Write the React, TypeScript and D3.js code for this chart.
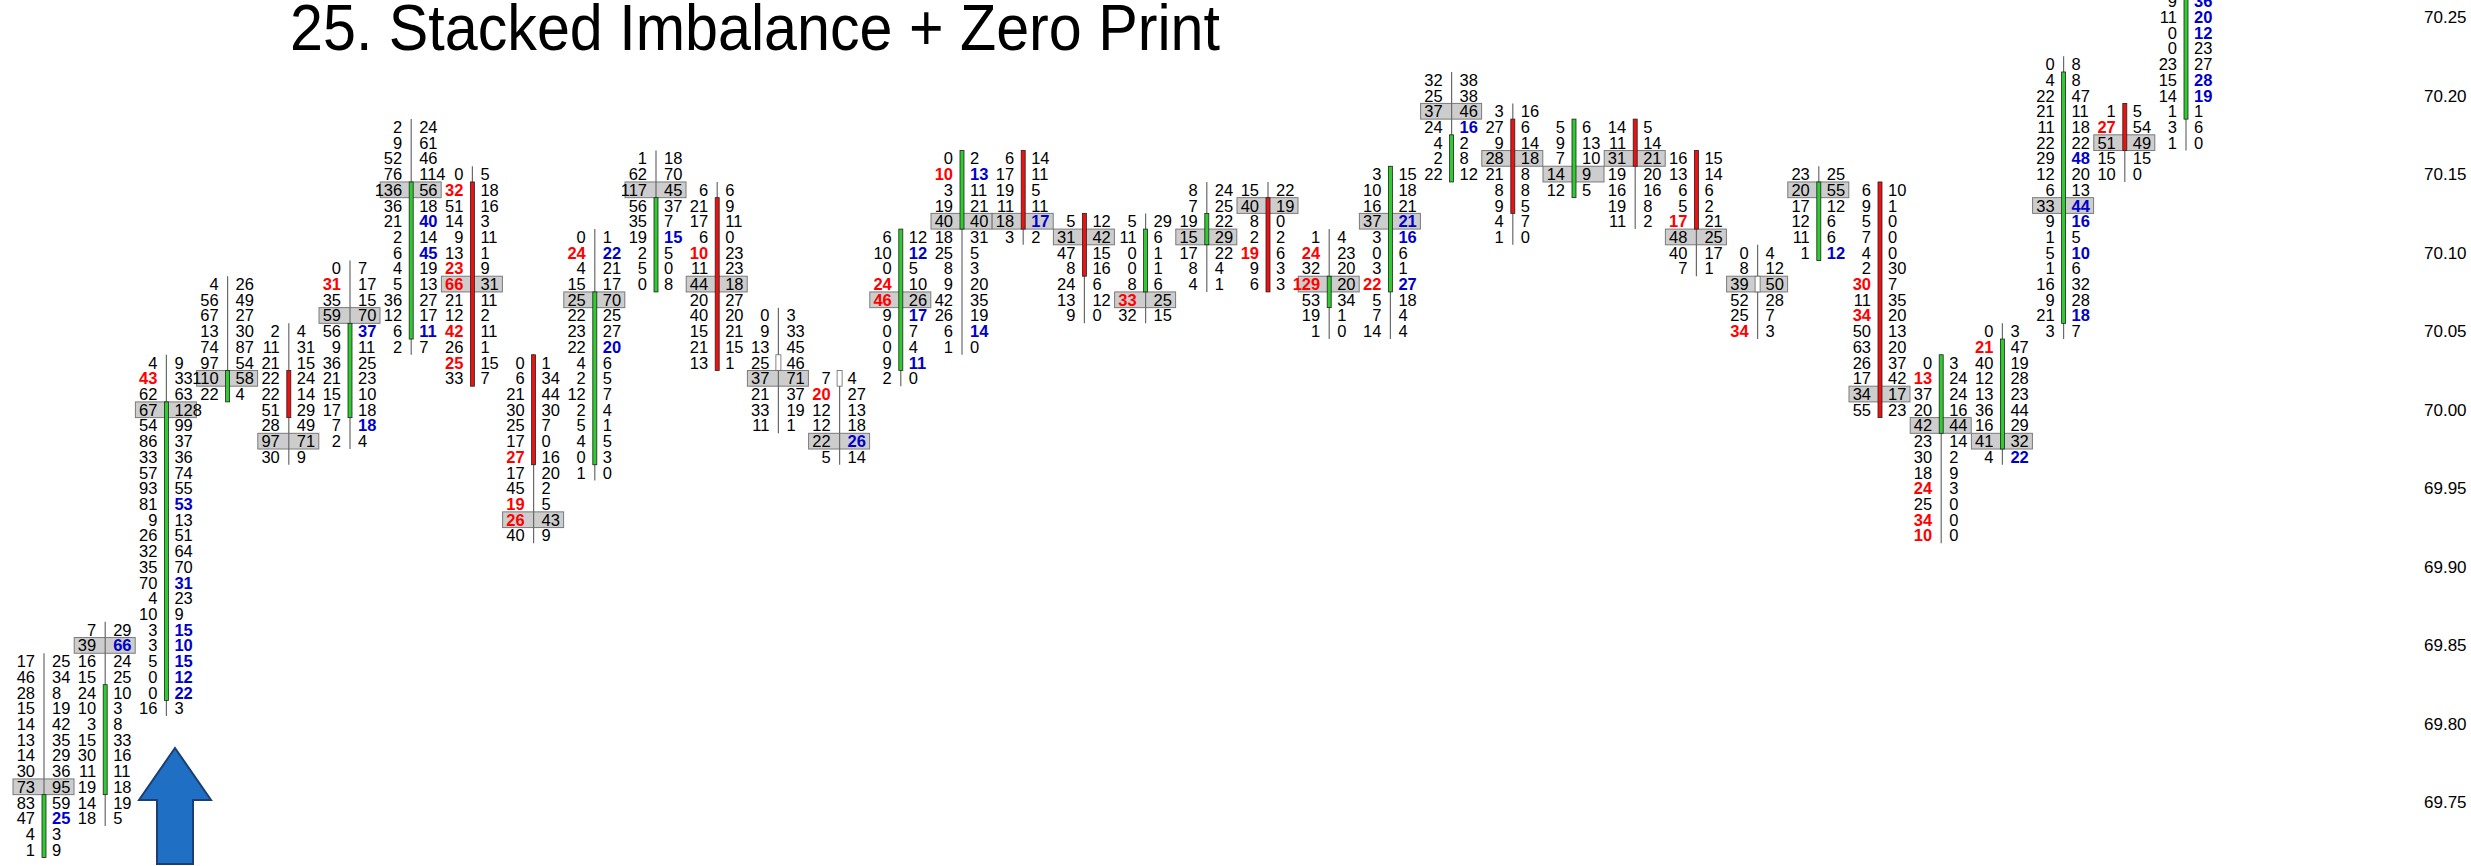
import React, { useEffect, useRef } from 'react'
import * as d3 from 'd3'

// footprint: one column per bar, rows are 0.01 price steps
const priceTicks = [70.25, 70.2, 70.15, 70.1, 70.05, 70.0, 69.95, 69.9, 69.85, 69.8, 69.75]

const colTops = [
  69.84, 69.86, 70.03, 70.08, 70.05, 70.09, 70.18, 70.15, 70.03, 70.11,
  70.16, 70.14, 70.06, 70.02, 70.11, 70.16, 70.16, 70.12, 70.12, 70.14,
  70.14, 70.11, 70.15, 70.21, 70.19, 70.18, 70.18, 70.16, 70.10, 70.15,
  70.14, 70.03, 70.05, 70.22, 70.19, 70.26,
]

const bidVols: number[][] = [
  [17, 46, 28, 15, 14, 13, 14, 30, 73, 83, 47, 4, 1],
  [7, 39, 16, 15, 24, 10, 3, 15, 30, 11, 19, 14, 18],
  [4, 43, 62, 67, 54, 86, 33, 57, 93, 81, 9, 26, 32, 35, 70, 4, 10, 3, 3, 5, 0, 0, 16],
  [4, 56, 67, 13, 74, 97, 110, 22],
  [2, 11, 21, 22, 22, 51, 28, 97, 30],
  [0, 31, 35, 59, 56, 9, 36, 21, 15, 17, 7, 2],
  [2, 9, 52, 76, 136, 36, 21, 2, 6, 4, 5, 36, 12, 6, 2],
  [0, 32, 51, 14, 9, 13, 23, 66, 21, 12, 42, 26, 25, 33],
  [0, 6, 21, 30, 25, 17, 27, 17, 45, 19, 26, 40],
  [0, 24, 4, 15, 25, 22, 23, 22, 4, 2, 12, 2, 5, 4, 0, 1],
  [1, 62, 117, 56, 35, 19, 2, 5, 0],
  [6, 21, 17, 6, 10, 11, 44, 20, 40, 15, 21, 13],
  [0, 9, 13, 25, 37, 21, 33, 11],
  [7, 20, 12, 12, 22, 5],
  [6, 10, 0, 24, 46, 9, 0, 0, 9, 2],
  [0, 10, 3, 19, 40, 18, 25, 8, 9, 42, 26, 6, 1],
  [6, 17, 19, 11, 18, 3],
  [5, 31, 47, 8, 24, 13, 9],
  [5, 11, 0, 0, 8, 33, 32],
  [8, 7, 19, 15, 17, 8, 4],
  [15, 40, 8, 2, 19, 9, 6],
  [1, 24, 32, 129, 53, 19, 1],
  [3, 10, 16, 37, 3, 0, 3, 22, 5, 7, 14],
  [32, 25, 37, 24, 4, 2, 22],
  [3, 27, 9, 28, 21, 8, 9, 4, 1],
  [5, 9, 7, 14, 12],
  [14, 11, 31, 19, 16, 19, 11],
  [16, 13, 6, 5, 17, 48, 40, 7],
  [0, 8, 39, 52, 25, 34],
  [23, 20, 17, 12, 11, 1],
  [6, 9, 5, 7, 4, 2, 30, 11, 34, 50, 63, 26, 17, 34, 55],
  [0, 13, 37, 20, 42, 23, 30, 18, 24, 25, 34, 10],
  [0, 21, 40, 12, 13, 36, 16, 41, 4],
  [0, 4, 22, 21, 11, 22, 29, 12, 6, 33, 9, 1, 5, 1, 16, 9, 21, 3],
  [1, 27, 51, 15, 10],
  [9, 11, 0, 0, 23, 15, 14, 1, 3, 1],
]

const askVols: number[][] = [
  [25, 34, 8, 19, 42, 35, 29, 36, 95, 59, 25, 3, 9],
  [29, 66, 24, 25, 10, 3, 8, 33, 16, 11, 18, 19, 5],
  [9, 33, 63, 128, 99, 37, 36, 74, 55, 53, 13, 51, 64, 70, 31, 23, 9, 15, 10, 15, 12, 22, 3],
  [26, 49, 27, 30, 87, 54, 58, 4],
  [4, 31, 15, 24, 14, 29, 49, 71, 9],
  [7, 17, 15, 70, 37, 11, 25, 23, 10, 18, 18, 4],
  [24, 61, 46, 114, 56, 18, 40, 14, 45, 19, 13, 27, 17, 11, 7],
  [5, 18, 16, 3, 11, 1, 9, 31, 11, 2, 11, 1, 15, 7],
  [1, 34, 44, 30, 7, 0, 16, 20, 2, 5, 43, 9],
  [1, 22, 21, 17, 70, 25, 27, 20, 6, 5, 7, 4, 1, 5, 3, 0],
  [18, 70, 45, 37, 7, 15, 5, 0, 8],
  [6, 9, 11, 0, 23, 23, 18, 27, 20, 21, 15, 1],
  [3, 33, 45, 46, 71, 37, 19, 1],
  [4, 27, 13, 18, 26, 14],
  [12, 12, 5, 10, 26, 17, 7, 4, 11, 0],
  [2, 13, 11, 21, 40, 31, 5, 3, 20, 35, 19, 14, 0],
  [14, 11, 5, 11, 17, 2],
  [12, 42, 15, 16, 6, 12, 0],
  [29, 6, 1, 1, 6, 25, 15],
  [24, 25, 22, 29, 22, 4, 1],
  [22, 19, 0, 2, 6, 3, 3],
  [4, 23, 20, 20, 34, 1, 0],
  [15, 18, 21, 21, 16, 6, 1, 27, 18, 4, 4],
  [38, 38, 46, 16, 2, 8, 12],
  [16, 6, 14, 18, 8, 8, 5, 7, 0],
  [6, 13, 10, 9, 5],
  [5, 14, 21, 20, 16, 8, 2],
  [15, 14, 6, 2, 21, 25, 17, 1],
  [4, 12, 50, 28, 7, 3],
  [25, 55, 12, 6, 6, 12],
  [10, 1, 0, 0, 0, 30, 7, 35, 20, 13, 20, 37, 42, 17, 23],
  [3, 24, 24, 16, 44, 14, 2, 9, 3, 0, 0, 0],
  [3, 47, 19, 28, 23, 44, 29, 32, 22],
  [8, 8, 47, 11, 18, 22, 48, 20, 13, 44, 16, 5, 10, 6, 32, 28, 18, 7],
  [5, 54, 49, 15, 0],
  [36, 20, 12, 23, 27, 28, 19, 1, 6, 0],
]

// row (within column) of the point of control box, -1 = none
const pocRows = [8, 1, 3, 6, 7, 3, 4, 7, 10, 4, 2, 6, 4, 4, 4, 4, 4, 1, 5, 3, 1, 3, 3, 2, 3, 3, 2, 5, 2, 1, 13, 4, 7, 9, 2, -1]

// candle body, first and last row inside the column
const bodyRows: [number, number][] = [
  [9, 12], [4, 10], [3, 21], [6, 7], [3, 5], [4, 9], [4, 13], [1, 13], [0, 6], [4, 14],
  [3, 8], [1, 11], [3, 3], [0, 0], [0, 8], [0, 4], [0, 4], [0, 3], [1, 4], [2, 3],
  [1, 6], [3, 4], [0, 7], [4, 6], [1, 6], [0, 4], [0, 2], [0, 4], [2, 2], [1, 5],
  [0, 14], [0, 4], [1, 7], [1, 16], [0, 2], [0, 7],
]
const bodyDir = [
  'up', 'up', 'up', 'up', 'down', 'up', 'up', 'down', 'down', 'up',
  'up', 'down', 'flat', 'flat', 'up', 'up', 'down', 'down', 'up', 'up',
  'down', 'up', 'up', 'up', 'down', 'up', 'down', 'down', 'flat', 'up',
  'down', 'up', 'up', 'up', 'down', 'up',
]

// imbalance highlights (row indexes): bid side red, ask side blue
const bidRed: number[][] = [
  [], [], [1], [], [], [1], [], [1, 6, 7, 10, 12], [6, 9, 10], [1],
  [], [4], [], [1], [3, 4], [1], [], [], [5], [],
  [4], [1, 3], [7], [], [], [], [], [4], [5], [],
  [6, 8], [1, 8, 10, 11], [1], [], [1], [],
]
const askBlue: number[][] = [
  [10], [1], [9, 14, 17, 18, 19, 20, 21], [], [], [4, 10], [6, 8, 13], [], [], [1, 7],
  [5], [], [], [4], [1, 5, 8], [1, 11], [4], [], [], [],
  [], [], [3, 4, 7], [3], [], [], [], [], [], [5],
  [], [], [8], [6, 9, 10, 12, 16], [], [0, 1, 2, 5, 6],
]

const W = 2471
const H = 866

const App: React.FC = () => {
  const svgRef = useRef(null)

  useEffect(() => {
    const svg = d3.select(svgRef.current).attr('width', W).attr('height', H)
    svg.selectAll('*').remove()

    const rowPx = 15.71
    const y = d3.scaleLinear().domain([70.25, 69.75]).range([17, 17 + 50 * rowPx])
    const x = d3.scaleLinear().domain([0, 35]).range([44, 44 + 35 * 61.2])
    const font = 'Liberation Sans, Arial, sans-serif'

    const rowPrice = (i: number, k: number) => Math.round(colTops[i] * 100 - k) / 100

    // title
    svg.append('text')
      .attr('x', 290).attr('y', 50)
      .attr('font-family', font).attr('font-size', 64)
      .attr('textLength', 930).attr('lengthAdjust', 'spacingAndGlyphs')
      .text('25. Stacked Imbalance + Zero Print')

    const g = svg.append('g')

    colTops.forEach((_, i) => {
      const cx = x(i)
      const n = bidVols[i].length
      const col = g.append('g')

      // POC box
      if (pocRows[i] >= 0) {
        col.append('rect')
          .attr('x', cx - 31).attr('y', y(rowPrice(i, pocRows[i])) - rowPx / 2)
          .attr('width', 61).attr('height', rowPx)
          .attr('fill', '#cdcdcd').attr('stroke', '#7a7a7a').attr('stroke-width', 1)
      }

      // wick
      col.append('line')
        .attr('x1', cx).attr('x2', cx)
        .attr('y1', y(rowPrice(i, 0)) - rowPx / 2)
        .attr('y2', y(rowPrice(i, n - 1)) + rowPx / 2)
        .attr('stroke', '#6a6a6a').attr('stroke-width', 1.2)

      // body
      const [b0, b1] = bodyRows[i]
      const dir = bodyDir[i]
      const by0 = y(rowPrice(i, b0)) - rowPx / 2
      const by1 = y(rowPrice(i, b1)) + rowPx / 2
      col.append('rect')
        .attr('x', dir === 'flat' ? cx - 2.5 : cx - 2).attr('y', by0)
        .attr('width', dir === 'flat' ? 5 : 4).attr('height', by1 - by0)
        .attr('fill', dir === 'up' ? '#2ecc2e' : dir === 'down' ? '#ee1111' : '#ffffff')
        .attr('stroke', dir === 'flat' ? '#666' : '#222').attr('stroke-width', 0.8)

      // bid / ask numbers
      bidVols[i].forEach((v, k) => {
        const hot = bidRed[i].includes(k)
        col.append('text')
          .attr('x', cx - 9).attr('y', y(rowPrice(i, k)) + 6)
          .attr('text-anchor', 'end')
          .attr('font-family', font).attr('font-size', 16.5)
          .attr('font-weight', hot ? 'bold' : 'normal')
          .attr('fill', hot ? '#ff0000' : '#000')
          .text(v)
      })
      askVols[i].forEach((v, k) => {
        const hot = askBlue[i].includes(k)
        col.append('text')
          .attr('x', cx + 8).attr('y', y(rowPrice(i, k)) + 6)
          .attr('font-family', font).attr('font-size', 16.5)
          .attr('font-weight', hot ? 'bold' : 'normal')
          .attr('fill', hot ? '#0000cc' : '#000')
          .text(v)
      })
    })

    // blue arrow pointing at the stacked imbalance
    const ax = 175
    const arrow = d3.path()
    arrow.moveTo(ax, 748)
    arrow.lineTo(ax + 36, 800)
    arrow.lineTo(ax + 18, 800)
    arrow.lineTo(ax + 18, 864)
    arrow.lineTo(ax - 18, 864)
    arrow.lineTo(ax - 18, 800)
    arrow.lineTo(ax - 36, 800)
    arrow.closePath()
    svg.append('path').attr('d', arrow.toString())
      .attr('fill', '#1f6fc5').attr('stroke', '#1b3f73').attr('stroke-width', 2)

    // price axis
    const axis = d3.axisRight(y).tickValues(priceTicks).tickSize(0).tickPadding(0)
      .tickFormat((d) => d3.format('.2f')(d as number))
    const ag = svg.append('g').attr('transform', 'translate(2424,0)').call(axis)
    ag.select('.domain').remove()
    ag.selectAll('text').attr('font-family', font).attr('font-size', 17).attr('fill', '#000')
  }, [])

  return (
    <div>
      <svg ref={svgRef} style={{ display: 'block', position: 'absolute', left: 0, top: 0 }} />
    </div>
  )
}

export default App
